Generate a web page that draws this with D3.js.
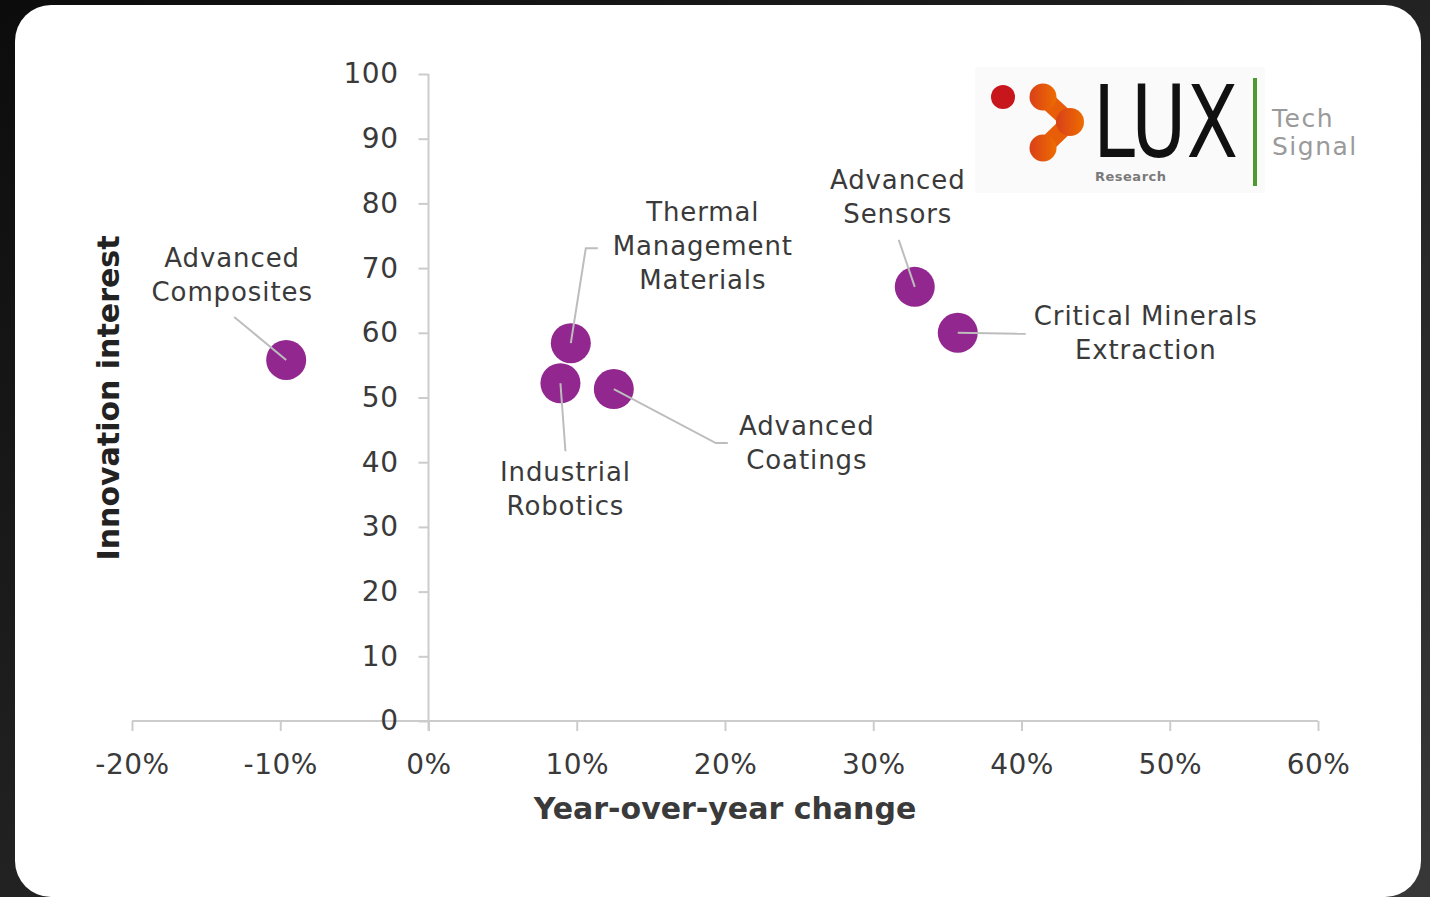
<!DOCTYPE html>
<html>
<head>
<meta charset="utf-8">
<script src="https://cdn.jsdelivr.net/npm/d3@7"></script>
<style>
  html, body { margin: 0; padding: 0; }
  body { width: 1430px; height: 897px; overflow: hidden; }
  svg { display: block; }
</style>
</head>
<body>
<svg id="chart" width="1430" height="897"></svg>
<script>
// ---- Data ----
const categories = ["Advanced Composites", "Thermal Management Materials", "Industrial Robotics",
                    "Advanced Coatings", "Advanced Sensors", "Critical Minerals Extraction"];
const yoyChange = [-0.096, 0.096, 0.089, 0.125, 0.328, 0.357];
const innovationInterest = [55.8, 58.4, 52.2, 51.3, 67.1, 60.0];
const xTicks = [-0.2, -0.1, 0, 0.1, 0.2, 0.3, 0.4, 0.5, 0.6];
const yTicks = [0, 10, 20, 30, 40, 50, 60, 70, 80, 90, 100];
const labelLines = [["Advanced", "Composites"], ["Thermal", "Management", "Materials"], ["Industrial", "Robotics"],
                    ["Advanced", "Coatings"], ["Advanced", "Sensors"], ["Critical Minerals", "Extraction"]];

// ---- Layout (pixel offsets relative to each point) ----
const labelLayout = [
  { dx: -54, dy: -100, leader: [[-52, -43]] },
  { dx: 132, dy: -130, leader: [[15, -95], [27, -95]] },
  { dx: 5, dy: 90, leader: [[5, 68]] },
  { dx: 193, dy: 38, leader: [[102, 54], [114, 54]] },
  { dx: -17, dy: -105, leader: [[-16, -47]] },
  { dx: 188, dy: -15, leader: [[68, 1]] }
];

const FONT = "'DejaVu Sans', sans-serif";
const svg = d3.select("#chart");

// background
const defs = svg.append("defs");
const bg = defs.append("linearGradient").attr("id", "bg").attr("x1", 0).attr("y1", 0).attr("x2", 1).attr("y2", 1);
bg.append("stop").attr("offset", "0%").attr("stop-color", "#0c0c0c");
bg.append("stop").attr("offset", "100%").attr("stop-color", "#383838");
svg.append("rect").attr("width", 1430).attr("height", 897).attr("fill", "url(#bg)");
svg.append("rect").attr("x", 15).attr("y", 5).attr("width", 1406).attr("height", 892)
  .attr("rx", 36).attr("ry", 36).attr("fill", "#ffffff");

const x = d3.scaleLinear().domain([-0.2, 0.6]).range([132, 1318]);
const y = d3.scaleLinear().domain([0, 100]).range([721, 74]);

const axisColor = "#cccccc";
const textColor = "#3a3a3a";

// x axis
const xAxis = svg.append("g").attr("transform", `translate(0,${y(0)})`)
  .call(d3.axisBottom(x).tickValues(xTicks).tickSize(10).tickPadding(23)
        .tickFormat(d => Math.round(d * 100) + "%"));
xAxis.select(".domain").attr("stroke", axisColor).attr("stroke-width", 2).attr("d", `M${x(-0.2)},0H${x(0.6)}`);
xAxis.selectAll(".tick line").attr("stroke", axisColor).attr("stroke-width", 2);
xAxis.selectAll(".tick text").attr("fill", textColor).attr("font-family", FONT).attr("font-size", 28)
  .attr("letter-spacing", 0.5);

// y axis
const yAxis = svg.append("g").attr("transform", `translate(${x(0)},0)`)
  .call(d3.axisLeft(y).tickValues(yTicks).tickSize(10).tickPadding(20));
yAxis.select(".domain").attr("stroke", axisColor).attr("stroke-width", 2).attr("d", `M0,${y(100)}V${y(0) + 10}`);
yAxis.selectAll(".tick line").attr("stroke", axisColor).attr("stroke-width", 2);
yAxis.selectAll(".tick text").attr("fill", textColor).attr("font-family", FONT).attr("font-size", 28)
  .attr("letter-spacing", 0.5);

// axis titles
svg.append("text").attr("x", 725).attr("y", 810).attr("text-anchor", "middle").attr("dominant-baseline", "middle")
  .attr("font-family", FONT).attr("font-weight", "bold").attr("font-size", 30).attr("fill", textColor)
  .text("Year-over-year change");
svg.append("text").attr("transform", "translate(110,398) rotate(-90)").attr("text-anchor", "middle")
  .attr("dominant-baseline", "middle")
  .attr("font-family", FONT).attr("font-weight", "bold").attr("font-size", 30).attr("fill", "#222")
  .text("Innovation interest");

// data
const pts = categories.map((c, i) => ({ name: c, px: x(yoyChange[i]), py: y(innovationInterest[i]), lines: labelLines[i], lay: labelLayout[i] }));

// circles
svg.append("g").selectAll("circle").data(pts).join("circle")
  .attr("cx", d => d.px).attr("cy", d => d.py).attr("r", 20).attr("fill", "#92278f");

// leaders
svg.append("g").selectAll("path").data(pts).join("path")
  .attr("d", d => d3.line()([[d.px, d.py], ...d.lay.leader.map(p => [d.px + p[0], d.py + p[1]])]))
  .attr("fill", "none").attr("stroke", "#bdbdbd").attr("stroke-width", 2);

// labels
const lbl = svg.append("g").selectAll("text").data(pts).join("text")
  .attr("text-anchor", "middle").attr("font-family", FONT).attr("font-size", 26).attr("fill", textColor)
  .attr("letter-spacing", 0.9);
lbl.selectAll("tspan").data(d => d.lines.map((l, j) => ({ l, x: d.px + d.lay.dx, y: d.py + d.lay.dy + j * 34 })))
  .join("tspan").attr("x", d => d.x).attr("y", d => d.y).attr("dominant-baseline", "middle").text(d => d.l);

// logo
const logo = svg.append("g");
logo.append("rect").attr("x", 975).attr("y", 67).attr("width", 290).attr("height", 126).attr("fill", "#fafafa");
logo.append("circle").attr("cx", 1003).attr("cy", 97).attr("r", 12).attr("fill", "#c8161d");
const og = defs.append("linearGradient").attr("id", "og").attr("x1", 0).attr("x2", 1);
og.append("stop").attr("offset", "0%").attr("stop-color", "#d9401a");
og.append("stop").attr("offset", "100%").attr("stop-color", "#ee6c00");
const blob = logo.append("g").attr("fill", "url(#og)");
blob.append("path").attr("d", "M1043,97 L1070,122 L1043,148").attr("fill", "none")
  .attr("stroke", "#e85e08").attr("stroke-width", 17).attr("stroke-linejoin", "round");
blob.append("circle").attr("cx", 1043).attr("cy", 97).attr("r", 13.5);
blob.append("circle").attr("cx", 1070).attr("cy", 122).attr("r", 14);
blob.append("circle").attr("cx", 1043).attr("cy", 148).attr("r", 13.5);
logo.append("text").attr("transform", "translate(1093,157) scale(1,1.45)")
  .attr("font-family", "'DejaVu Sans', sans-serif").attr("font-size", 69)
  .attr("textLength", 145).attr("lengthAdjust", "spacingAndGlyphs").attr("fill", "#111").text("LUX");
logo.append("text").attr("x", 1095).attr("y", 181).attr("font-family", "'DejaVu Sans', sans-serif")
  .attr("font-size", 13).attr("font-weight", "bold").attr("textLength", 71).attr("fill", "#7a7a7a").text("Research");
logo.append("rect").attr("x", 1253).attr("y", 78).attr("width", 4).attr("height", 108).attr("fill", "#4e9a2f");
logo.append("text").attr("x", 1272).attr("y", 127).attr("font-family", "'DejaVu Sans', sans-serif")
  .attr("font-size", 25).attr("letter-spacing", 1.5).attr("fill", "#9a9a9a").text("Tech");
logo.append("text").attr("x", 1272).attr("y", 155).attr("font-family", "'DejaVu Sans', sans-serif")
  .attr("font-size", 25).attr("letter-spacing", 1.5).attr("fill", "#9a9a9a").text("Signal");
</script>
</body>
</html>
